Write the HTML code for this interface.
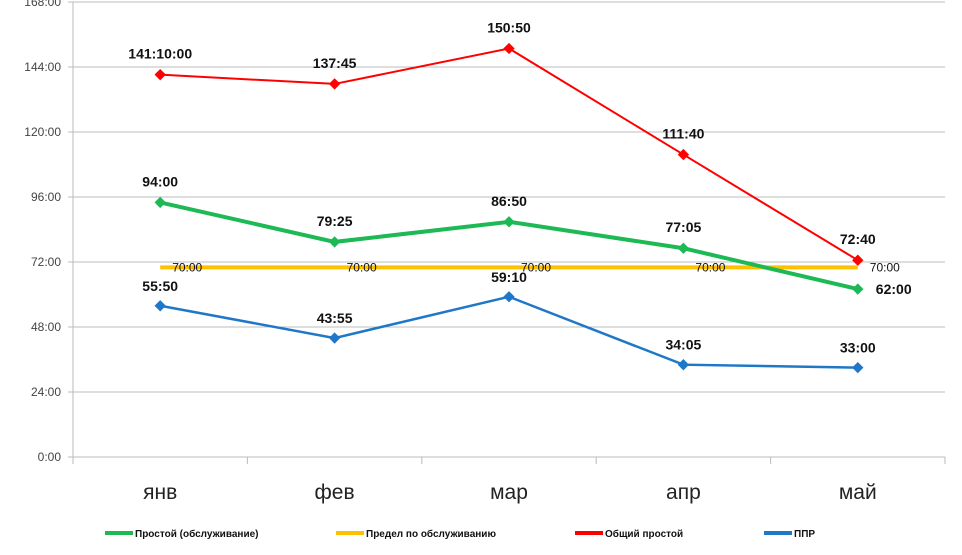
<!DOCTYPE html>
<html><head><meta charset="utf-8"><style>
body{margin:0;background:#fff;font-family:"Liberation Sans","DejaVu Sans",sans-serif}
svg{display:block}
</style></head><body>
<svg id="chart" width="962" height="555" xmlns="http://www.w3.org/2000/svg">
<g id="grid"></g>
<g id="series"></g>
<g id="legend"></g>
</svg>
<script>
const categories=["янв","фев","мар","апр","май"];
const greenVals=[94,79+25/60,86+50/60,77+5/60,62];
const greenLabels=["94:00","79:25","86:50","77:05","62:00"];
const yellowVals=[70,70,70,70,70];
const yellowLabels=["70:00","70:00","70:00","70:00","70:00"];
const redVals=[141+10/60,137.75,150+50/60,111+40/60,72+40/60];
const redLabels=["141:10:00","137:45","150:50","111:40","72:40"];
const blueVals=[55+50/60,43+55/60,59+10/60,34+5/60,33];
const blueLabels=["55:50","43:55","59:10","34:05","33:00"];
const yTicks=[0,24,48,72,96,120,144,168];
const yTickLabels=["0:00","24:00","48:00","72:00","96:00","120:00","144:00","168:00"];

const NS="http://www.w3.org/2000/svg";
const L=73,R=945,Y0=457,PPH=390/144;
const cw=(R-L)/categories.length;
const xs=i=>L+cw*(i+0.5);
const ys=v=>Y0-v*PPH;
function mk(t,a,p){const e=document.createElementNS(NS,t);for(const k in a)e.setAttribute(k,a[k]);p.appendChild(e);return e;}
const grid=document.getElementById('grid'),ser=document.getElementById('series'),leg=document.getElementById('legend');
yTicks.forEach((v,i)=>{
 const y=ys(v);
 const ln=mk('line',{x1:L-5,x2:R,y1:y,y2:y,stroke:i==0?'#bbb':'#bdbdbd','stroke-width':1},grid);
 
 
 const t=mk('text',{x:L-12,y:y+4,'text-anchor':'end','font-size':12,fill:'#444'},grid);
 t.textContent=yTickLabels[i];
 
 
});
const ax=mk('line',{x1:L,x2:L,y1:ys(168),y2:Y0+6,stroke:'#bbb'},grid);


for(let i=0;i<=categories.length;i++){
 const x=L+cw*i;
 const tk=mk('line',{x1:x,x2:x,y1:Y0,y2:Y0+7,stroke:'#bbb'},grid);
 
 
}
categories.forEach((c,i)=>{
 const t=mk('text',{x:xs(i),y:Y0+42,'text-anchor':'middle','font-size':21,fill:'#222'},grid);
 t.textContent=c;
 
 
});
function line(vals,labels,color,w,marker,name,lblPos){
 const g=mk('g',{},ser);
 
 
 const pl=mk('polyline',{points:vals.map((v,i)=>xs(i)+','+ys(v)).join(' '),fill:'none',stroke:color,'stroke-width':w},g);
 
 
 vals.forEach((v,i)=>{
  const x=xs(i),y=ys(v);
  if(marker){
   const m=mk('rect',{x:x-4,y:y-4,width:8,height:8,fill:color,transform:`rotate(45 ${x} ${y})`},g);
   
   
  }
  const p=lblPos(i,x,y);
  const t=mk('text',{x:p[0],y:p[1],'text-anchor':p[2],'font-size':p[3],'font-weight':p[4],fill:'#111'},g);
  t.textContent=labels[i];
  
  
 });
}
line(yellowVals,yellowLabels,'#ffc000',4,false,'limit',(i,x,y)=>[x+12,y+4,'start',12,'normal']);
line(blueVals,blueLabels,'#1f77c8',2.5,true,'ppr',(i,x,y)=>[x,y-15,'middle',14,'bold']);
line(greenVals,greenLabels,'#1db954',4,true,'maintenance',(i,x,y)=>i==4?[x+18,y+5,'start',14,'bold']:[x,y-16,'middle',14,'bold']);
line(redVals,redLabels,'#ff0000',2,true,'total',(i,x,y)=>i==4?[x,y-16,'middle',14,'bold']:[x,y-16,'middle',14,'bold']);
const legendItems=[["Простой (обслуживание)","#1db954",105,"legend-maintenance"],["Предел по обслуживанию","#ffc000",336,"legend-limit"],["Общий простой","#ff0000",575,"legend-total"],["ППР","#1f77c8",764,"legend-ppr"]];
legendItems.forEach(it=>{
 const g=mk('g',{},leg);
 
 
 mk('line',{x1:it[2],x2:it[2]+28,y1:533,y2:533,stroke:it[1],'stroke-width':4},g);
 const t=mk('text',{x:it[2]+30,y:537,'font-size':10,'font-weight':'bold',fill:'#111'},g);
 t.textContent=it[0];
});
</script>
</body></html>
